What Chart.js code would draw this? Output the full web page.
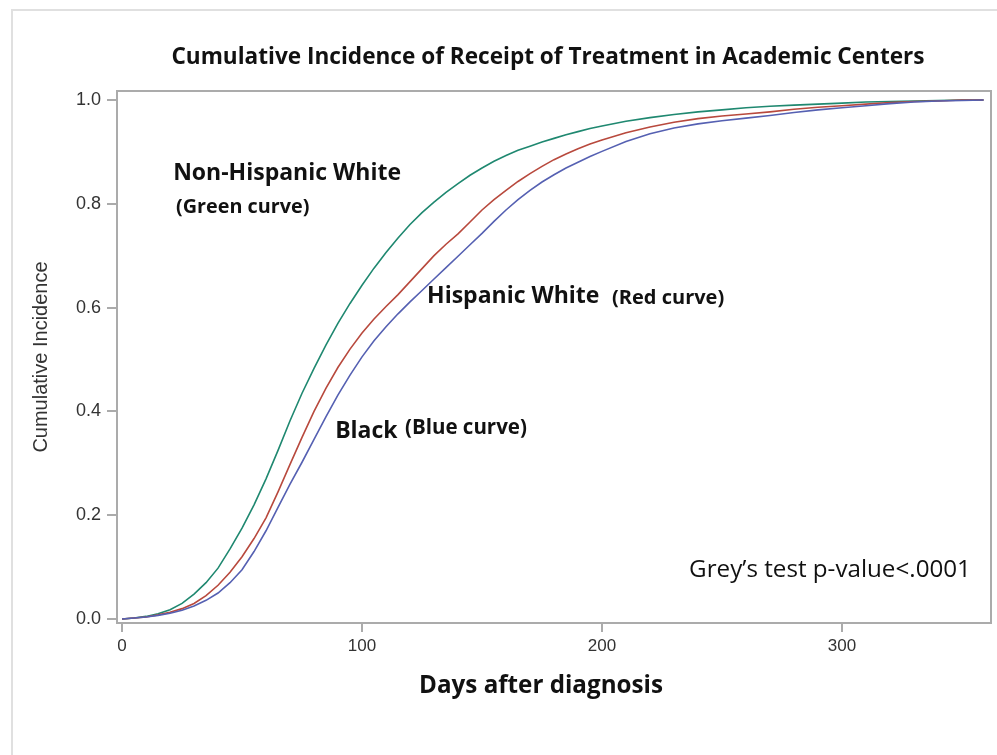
<!DOCTYPE html>
<html>
<head>
<meta charset="utf-8">
<script src="https://cdn.jsdelivr.net/npm/chart.js@4"></script>
<style>
  html, body { margin: 0; padding: 0; background: #fff; }
</style>
</head>
<body>
<canvas id="cif" width="997" height="755"></canvas>
<script>
// --- DATA ---
const days = [0, 5, 10, 15, 20, 25, 30, 35, 40, 45, 50, 55, 60, 65, 70, 75, 80, 85, 90, 95, 100,
  105, 110, 115, 120, 125, 130, 135, 140, 145, 150, 155, 160, 165, 170, 175, 180, 185, 190, 195, 200,
  210, 220, 230, 240, 250, 260, 270, 280, 290, 300, 310, 320, 330, 340, 350, 359];

const nhWhite = [0, 0.002, 0.005, 0.01, 0.018, 0.03, 0.048, 0.07, 0.098, 0.135, 0.175, 0.22, 0.27, 0.325, 0.382, 0.435, 0.483, 0.528, 0.57, 0.608, 0.643,
  0.676, 0.706, 0.734, 0.76, 0.783, 0.803, 0.822, 0.839, 0.855, 0.869, 0.882, 0.893, 0.903, 0.911, 0.919, 0.926, 0.933, 0.939, 0.945, 0.95,
  0.959, 0.966, 0.972, 0.977, 0.981, 0.985, 0.988, 0.99, 0.992, 0.994, 0.996, 0.997, 0.998, 0.999, 1.0, 1.0];

const hispWhite = [0, 0.002, 0.004, 0.008, 0.013, 0.02, 0.03, 0.045, 0.065, 0.09, 0.12, 0.155, 0.195, 0.245, 0.298, 0.35, 0.4, 0.445, 0.485, 0.52, 0.551,
  0.578, 0.602, 0.625, 0.65, 0.675, 0.7, 0.722, 0.742, 0.765, 0.788, 0.808, 0.826, 0.843, 0.858, 0.872, 0.885, 0.896, 0.906, 0.915, 0.923,
  0.937, 0.948, 0.957, 0.964, 0.969, 0.973, 0.977, 0.982, 0.986, 0.989, 0.992, 0.995, 0.997, 0.998, 1.0, 1.0];

const black = [0, 0.002, 0.004, 0.007, 0.011, 0.017, 0.025, 0.036, 0.05, 0.07, 0.095, 0.13, 0.17, 0.215, 0.26, 0.302, 0.346, 0.39, 0.432, 0.47, 0.505,
  0.536, 0.563, 0.588, 0.611, 0.633, 0.655, 0.677, 0.699, 0.721, 0.743, 0.766, 0.788, 0.808, 0.826, 0.842, 0.856, 0.869, 0.88, 0.891, 0.901,
  0.92, 0.935, 0.946, 0.954, 0.96, 0.965, 0.97, 0.976, 0.981, 0.985, 0.989, 0.993, 0.996, 0.998, 0.999, 1.0];

const xTicks = [0, 100, 200, 300];
const yTicks = [0, 0.2, 0.4, 0.6, 0.8, 1.0];

const chartTitle = 'Cumulative Incidence of Receipt of Treatment in Academic Centers';
const xTitle = 'Days after diagnosis';

// text notes placed in data units (left edge, vertical middle)
const notes = [
  { text: 'Non-Hispanic White', d: 21.3, v: 0.859, font: 'bold 23px "Open Sans"' },
  { text: '(Green curve)', d: 22.5, v: 0.794, font: 'bold 19.8px "Open Sans"' },
  { text: 'Hispanic White', d: 127.1, v: 0.622, font: 'bold 23px "Open Sans"' },
  { text: '(Red curve)', d: 204.2, v: 0.618, font: 'bold 20px "Open Sans"' },
  { text: 'Black', d: 88.8, v: 0.362, font: 'bold 23px "Open Sans"' },
  { text: '(Blue curve)', d: 117.9, v: 0.368, font: 'bold 20.5px "Open Sans"' },
  { text: 'Grey\u2019s test p-value<.0001', d: 236.3, v: 0.094, font: '24.2px "Open Sans"' }
];

const pts = arr => arr.map((v, i) => ({ x: days[i], y: v }));

// --- PLUGIN: outer border, plot frame, titles, notes ---
const decor = {
    id: 'decor',
    beforeDraw(chart) {
        const ctx = chart.ctx;
        ctx.save();
        ctx.strokeStyle = '#e0e0e0';
        ctx.lineWidth = 2;
        ctx.beginPath();
        ctx.moveTo(12, 755); ctx.lineTo(12, 10); ctx.lineTo(997, 10);
        ctx.stroke();
        ctx.restore();
    },
    afterDraw(chart) {
        const ctx = chart.ctx, a = chart.chartArea;
        const xs = chart.scales.x, ys = chart.scales.y;
        ctx.save();
        ctx.strokeStyle = '#ababab';
        ctx.lineWidth = 2;
        ctx.strokeRect(a.left, a.top, a.right - a.left, a.bottom - a.top);

        ctx.fillStyle = '#111';
        ctx.textBaseline = 'middle';
        ctx.textAlign = 'center';
        ctx.font = 'bold 22.6px "Open Sans"';
        ctx.fillText(chartTitle, 548, 58);
        ctx.font = 'bold 24.2px "Open Sans"';
        ctx.fillText(xTitle, 541, 686);

        ctx.textAlign = 'left';
        notes.forEach(n => {
            ctx.font = n.font;
            ctx.fillText(n.text, xs.getPixelForValue(n.d), ys.getPixelForValue(n.v));
        });
        ctx.restore();
    }
};

const line = (label, data, color) => ({
    label, data: pts(data), borderColor: color, borderWidth: 1.6,
    pointRadius: 0, tension: 0, fill: false
});

new Chart(document.getElementById('cif'), {
    type: 'line',
    data: {
        datasets: [
            line('Black', black, '#5560b2'),
            line('Hispanic White', hispWhite, '#b8493d'),
            line('Non-Hispanic White', nhWhite, '#1f8870')
        ]
    },
    options: {
        responsive: false,
        animation: false,
        layout: { padding: { left: 22, right: 6, top: 91, bottom: 0 } },
        plugins: { legend: { display: false }, tooltip: { enabled: false } },
        scales: {
            x: {
                type: 'linear', min: -2.1, max: 362.1,
                afterBuildTicks: s => { s.ticks = xTicks.map(v => ({ value: v })); },
                afterFit: s => { s.height = 132; },
                grid: { drawOnChartArea: false, drawTicks: true, tickLength: 9, color: '#ababab', lineWidth: 2 },
                border: { display: false },
                ticks: { padding: 4, color: '#333', font: { family: 'Liberation Sans', size: 17 }, maxRotation: 0 },
                title: { display: false }
            },
            y: {
                type: 'linear', min: -0.0077, max: 1.0173,
                afterBuildTicks: s => { s.ticks = yTicks.map(v => ({ value: v })); },
                afterFit: s => { s.width = 95; },
                grid: { drawOnChartArea: false, drawTicks: true, tickLength: 10, color: '#ababab', lineWidth: 2 },
                border: { display: false },
                ticks: { padding: 6, color: '#333', font: { family: 'Liberation Sans', size: 18 },
                    callback: v => v.toFixed(1) },
                title: { display: true, text: 'Cumulative Incidence', color: '#333',
                    font: { family: 'Liberation Sans', size: 20 }, padding: { top: 7, bottom: 0 } }
            }
        }
    },
    plugins: [decor]
});
</script>
</body>
</html>
